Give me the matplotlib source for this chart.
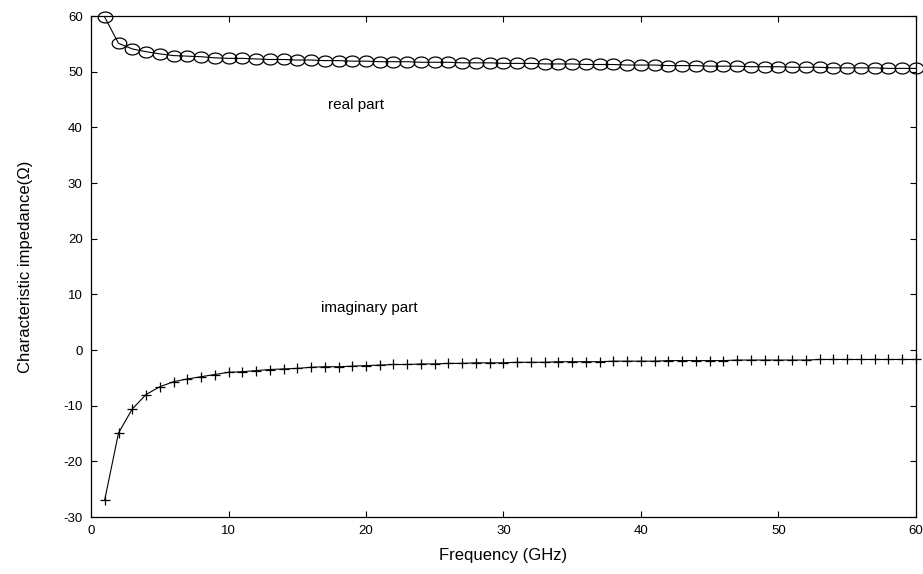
import numpy as np
import matplotlib
matplotlib.use("Agg")
import matplotlib.pyplot as plt
from matplotlib.path import Path

plt.rcParams["font.family"] = ["Liberation Sans", "DejaVu Sans"]
plt.rcParams["axes.unicode_minus"] = False

freq_ghz = list(range(1, 61))

real_part = [
    59.8, 55.1, 54.1, 53.6, 53.2, 52.9, 52.8, 52.7, 52.5, 52.4,
    52.4, 52.3, 52.2, 52.2, 52.1, 52.1, 52.0, 52.0, 51.9, 51.9,
    51.8, 51.8, 51.8, 51.7, 51.7, 51.7, 51.6, 51.6, 51.6, 51.5,
    51.5, 51.5, 51.4, 51.4, 51.4, 51.3, 51.3, 51.3, 51.2, 51.2,
    51.2, 51.1, 51.1, 51.1, 51.0, 51.0, 51.0, 50.9, 50.9, 50.9,
    50.8, 50.8, 50.8, 50.7, 50.7, 50.7, 50.7, 50.6, 50.6, 50.6,
]

imag_part = [
    -26.9, -14.9, -10.6, -8.0, -6.6, -5.7, -5.2, -4.8, -4.4, -4.0,
    -3.9, -3.7, -3.5, -3.4, -3.3, -3.1, -3.0, -3.0, -2.9, -2.8,
    -2.7, -2.6, -2.6, -2.5, -2.5, -2.4, -2.4, -2.3, -2.3, -2.3,
    -2.2, -2.2, -2.2, -2.1, -2.1, -2.1, -2.1, -2.0, -2.0, -2.0,
    -2.0, -1.9, -1.9, -1.9, -1.9, -1.9, -1.8, -1.8, -1.8, -1.8,
    -1.8, -1.8, -1.7, -1.7, -1.7, -1.7, -1.7, -1.7, -1.7, -1.7,
]

x_ticks = [0, 10, 20, 30, 40, 50, 60]
y_ticks = [-30, -20, -10, 0, 10, 20, 30, 40, 50, 60]

# flattened ellipse marker
theta = np.linspace(0, 2 * np.pi, 41)
ellipse = Path(np.column_stack([np.cos(theta), 0.75 * np.sin(theta)]), closed=True)

fig = plt.figure(figsize=(9.23, 5.74), dpi=100)
ax = fig.add_axes([0.0986, 0.0993, 0.8938, 0.8727])

ax.plot(freq_ghz, real_part, color="black", lw=0.8,
        marker=ellipse, markersize=10.5, markerfacecolor="none",
        markeredgecolor="black", markeredgewidth=0.9, clip_on=False)
ax.plot(freq_ghz, imag_part, color="black", lw=0.8,
        marker="+", markersize=7.5, markeredgewidth=0.9, clip_on=False)

ax.set_xlim(0, 60)
ax.set_ylim(-30, 60)
ax.set_xticks(x_ticks)
ax.set_yticks(y_ticks)
ax.tick_params(direction="in", top=True, right=True, length=4,
               width=0.8, labelsize=9.5, pad=6)
for s in ax.spines.values():
    s.set_linewidth(0.9)

ax.text(17.2, 44.0, "real part", fontsize=11, va="center", ha="left")
ax.text(16.7, 7.6, "imaginary part", fontsize=11, va="center", ha="left")

ax.set_xlabel("Frequency (GHz)", fontsize=12, labelpad=8)
ax.set_ylabel("Characteristic impedance(\u03a9)", fontsize=12, labelpad=22)

fig.savefig("out.png", dpi=100)
